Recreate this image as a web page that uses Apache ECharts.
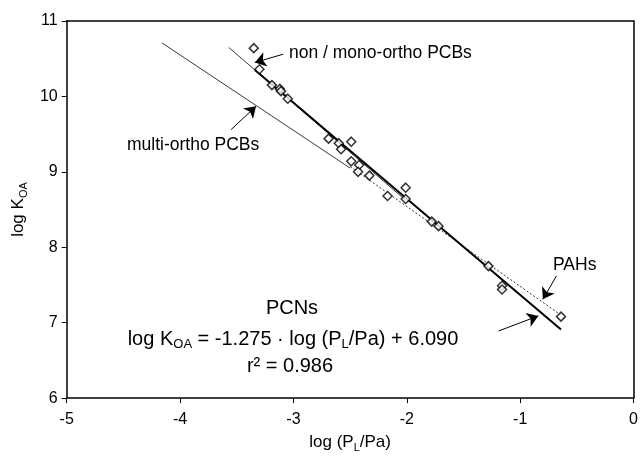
<!DOCTYPE html>
<html>
<head>
<meta charset="utf-8">
<script src="https://cdn.jsdelivr.net/npm/echarts@6/dist/echarts.min.js"></script>
<style>
  html, body { margin: 0; padding: 0; background: #fff; }
  #main { width: 641px; height: 458px; }
</style>
</head>
<body>
<div id="main"></div>
<script>
// 测量点：log (PL/Pa) 与 log KOA
var logPL = [-3.35, -3.30, -3.19, -3.12, -3.11, -3.05, -2.69, -2.60, -2.58, -2.49, -2.49, -2.42,
  -2.43, -2.33, -2.17, -2.01, -2.01, -1.78, -1.72, -1.28, -1.16, -1.16, -0.64]
var logKOA = [10.64, 10.36, 10.15, 10.10, 10.07, 9.97, 9.44, 9.38, 9.30, 9.40, 9.14, 9.09,
  9.00, 8.95, 8.68, 8.79, 8.64, 8.34, 8.28, 7.75, 7.49, 7.44, 7.08]

// 回归线端点
var pcnLine = [[-3.34, 10.35], [-0.64, 6.91]]
var monoLine = [[-3.57, 10.65], [-2.0, 8.61]]
var multiLine = [[-4.16, 10.71], [-2.5, 9.05]]
var pahLine = [[-2.5, 9.07], [-0.63, 7.09]]

// 注释箭头 [起点, 终点]
var arrows = [
  [[-3.09, 10.56], [-3.34, 10.45]],
  [[-3.55, 9.56], [-3.33, 9.87]],
  [[-0.68, 7.62], [-0.80, 7.31]],
  [[-1.19, 6.89], [-0.84, 7.09]]
]

var xTicks = [-5, -4, -3, -2, -1, 0]
var yTicks = [6, 7, 8, 9, 10, 11]

var font = 'Liberation Sans'
var points = logPL.map(function (x, i) { return [x, logKOA[i]] })

var subStyle = { fontSize: 11, lineHeight: 11, padding: [10, 0, 0, 0], fontFamily: font }
var bigSub = { fontSize: 13, lineHeight: 13, padding: [11, 0, 0, 0], fontFamily: font }

// 边框用的上、右轴
var frameAxis = {
  type: 'value', show: true,
  axisLine: { show: true, onZero: false, lineStyle: { color: '#000', width: 1.5 } },
  axisTick: { show: false }, axisLabel: { show: false }, splitLine: { show: false }
}

var myChart = echarts.init(document.getElementById('main'))
myChart.setOption({
  animation: false,
  backgroundColor: '#fff',
  grid: { left: 63, right: 5, top: 21, bottom: 59 },
  xAxis: [{
    type: 'value', min: xTicks[0], max: xTicks[xTicks.length - 1], interval: 1,
    name: 'log (P{sub|L}/Pa)', nameLocation: 'middle', nameGap: 35,
    nameTextStyle: { color: '#000', fontSize: 17, fontFamily: font, rich: { sub: subStyle } },
    axisLine: { onZero: false, lineStyle: { color: '#000', width: 1.5 } },
    axisTick: { lineStyle: { color: '#000' }, length: 5 },
    axisLabel: { color: '#000', fontSize: 16, fontFamily: font, margin: 13 },
    splitLine: { show: false }
  }, Object.assign({ position: 'top', min: xTicks[0], max: xTicks[xTicks.length - 1] }, frameAxis)],
  yAxis: [{
    type: 'value', min: yTicks[0], max: yTicks[yTicks.length - 1], interval: 1,
    name: 'log K{sub|OA}', nameLocation: 'middle', nameGap: 30,
    nameTextStyle: { color: '#000', fontSize: 17, fontFamily: font, rich: { sub: subStyle } },
    axisLine: { onZero: false, lineStyle: { color: '#000', width: 1.5 } },
    axisTick: { lineStyle: { color: '#000' }, length: 5 },
    axisLabel: { color: '#000', fontSize: 16, fontFamily: font, margin: 9 },
    splitLine: { show: false }
  }, Object.assign({ position: 'right', min: yTicks[0], max: yTicks[yTicks.length - 1] }, frameAxis)],
  series: [
    {
      name: 'multi-ortho', type: 'line', data: multiLine, symbol: 'none',
      lineStyle: { color: '#222', width: 0.9 }, z: 2
    },
    {
      name: 'PAHs', type: 'line', data: pahLine, symbol: 'none',
      lineStyle: { color: '#333', width: 1, type: [2, 2] }, z: 2
    },
    {
      name: 'mono-ortho', type: 'line', data: monoLine, symbol: 'none',
      lineStyle: { color: '#222', width: 0.9 }, z: 2
    },
    {
      name: 'PCNs', type: 'line', data: pcnLine, symbol: 'none',
      lineStyle: { color: '#000', width: 2 }, z: 3
    },
    {
      type: 'scatter', data: points, symbol: 'diamond', symbolSize: 9,
      itemStyle: { color: '#fff', borderColor: '#000', borderWidth: 1.5 }, z: 5
    },
    {
      type: 'lines', coordinateSystem: 'cartesian2d',
      data: arrows.map(function (a) { return { coords: a } }),
      symbol: ['none', 'arrow'], symbolSize: [7, 11],
      lineStyle: { color: '#000', width: 1, opacity: 1 }, z: 6
    }
  ],
  graphic: [
    { type: 'text', left: 289, top: 44, style: { text: 'non / mono-ortho PCBs', font: '17.5px ' + font, fill: '#000' } },
    { type: 'text', left: 127, top: 136, style: { text: 'multi-ortho PCBs', font: '17.5px ' + font, fill: '#000' } },
    { type: 'text', left: 553, top: 256, style: { text: 'PAHs', font: '17.5px ' + font, fill: '#000' } },
    {
      type: 'text', x: 292, y: 308,
      style: { text: 'PCNs', font: '20px ' + font, fill: '#000', align: 'center', verticalAlign: 'middle' }
    },
    {
      type: 'text', x: 293, y: 339,
      style: {
        text: 'log K{sub|OA} = -1.275 · log (P{sub|L}/Pa) + 6.090',
        font: '20px ' + font, fill: '#000', align: 'center', verticalAlign: 'middle',
        rich: { sub: bigSub }
      }
    },
    {
      type: 'text', x: 290, y: 366,
      style: { text: 'r² = 0.986', font: '20px ' + font, fill: '#000', align: 'center', verticalAlign: 'middle' }
    }
  ]
})
</script>
</body>
</html>
